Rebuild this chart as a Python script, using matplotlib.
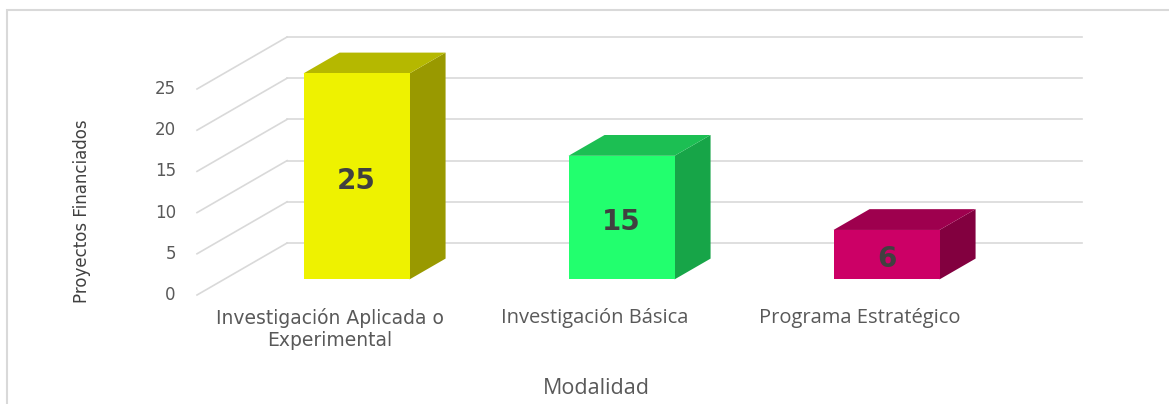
import numpy as np
import matplotlib as mpl
mpl.use("agg")
import matplotlib.pyplot as plt
from matplotlib.patches import Polygon, Rectangle

# data
categories = ["Investigación Aplicada o\nExperimental", "Investigación Básica", "Programa Estratégico"]
values = [25, 15, 6]
front_colors = ["#EEF200", "#22FF6E", "#CC0066"]
top_colors = ["#B5B800", "#1CBF53", "#9E004E"]
side_colors = ["#999900", "#17A548", "#82003F"]
yticks = [0, 5, 10, 15, 20, 25]

# oblique projection of depth axis (in category / value units)
DX = 0.34
DY = 6.31

def proj(c, v, d):
    return (c + DX * d, v + DY * d)

fig = plt.figure(figsize=(11.69, 4.04), dpi=100)
ax = fig.add_axes([0, 0, 1, 1])
ax.set_xlim(-197 / 265, (1169 - 197) / 265)
ax.set_ylim(-109 / 8.24, (404 - 109) / 8.24)
ax.axis("off")

grid_col = "#D9D9D9"
ncat = len(categories)
for v in yticks:
    # side wall diagonal
    x0, y0 = proj(0, v, 0)
    x1, y1 = proj(0, v, 1)
    ax.plot([x0, x1], [y0, y1], color=grid_col, lw=1.2, zorder=1)
    # back wall line
    x2, y2 = proj(ncat, v, 1)
    ax.plot([x1, x2], [y1, y2], color=grid_col, lw=1.2, zorder=1)
    ax.text(-0.08, v, str(v), ha="right", va="center", fontsize=12,
            color="#595959", family="DejaVu Sans")

# bars
w0, w1 = 0.3, 0.7
d0, d1 = 0.3, 0.7
for i, v in enumerate(values):
    c0, c1 = i + w0, i + w1
    front = [proj(c0, 0, d0), proj(c1, 0, d0), proj(c1, v, d0), proj(c0, v, d0)]
    top = [proj(c0, v, d0), proj(c1, v, d0), proj(c1, v, d1), proj(c0, v, d1)]
    side = [proj(c1, 0, d0), proj(c1, 0, d1), proj(c1, v, d1), proj(c1, v, d0)]
    ax.add_patch(Polygon(side, closed=True, facecolor=side_colors[i], lw=0, zorder=3))
    ax.add_patch(Polygon(top, closed=True, facecolor=top_colors[i], lw=0, zorder=3))
    ax.add_patch(Polygon(front, closed=True, facecolor=front_colors[i], lw=0, zorder=4))
    cx, cy = proj(i + 0.5, v / 2, d0)
    ax.text(cx, cy - 0.5, str(v), ha="center", va="center", fontsize=20,
            fontweight="bold", color="#404040", zorder=5)

# category labels
for i, lab in enumerate(categories):
    if i == 0:
        ax.text(i + 0.5, -4.13, lab, ha="center", va="center", fontsize=13.5,
                color="#595959", family="DejaVu Sans", linespacing=1.15)
    else:
        ax.text(i + 0.5, -2.79, lab, ha="center", va="center", fontsize=14.5,
                color="#595959", family="Open Sans")

fig.text(596 / 1169, 1 - 388 / 404, "Modalidad", ha="center", va="center",
         fontsize=15.5, color="#595959", family="Open Sans")
fig.text(82 / 1169, 1 - 211 / 404, "Proyectos Financiados", ha="center", va="center",
         rotation=90, fontsize=12, color="#404040", family="DejaVu Sans")

# chart frame
fig.patches.append(Rectangle((7 / 1169, -0.1), 1.2, 1 - 10 / 404 + 0.1, transform=fig.transFigure,
                             fill=False, edgecolor="#D9D9D9", lw=1.5))

fig.savefig("out.png", dpi=100)
